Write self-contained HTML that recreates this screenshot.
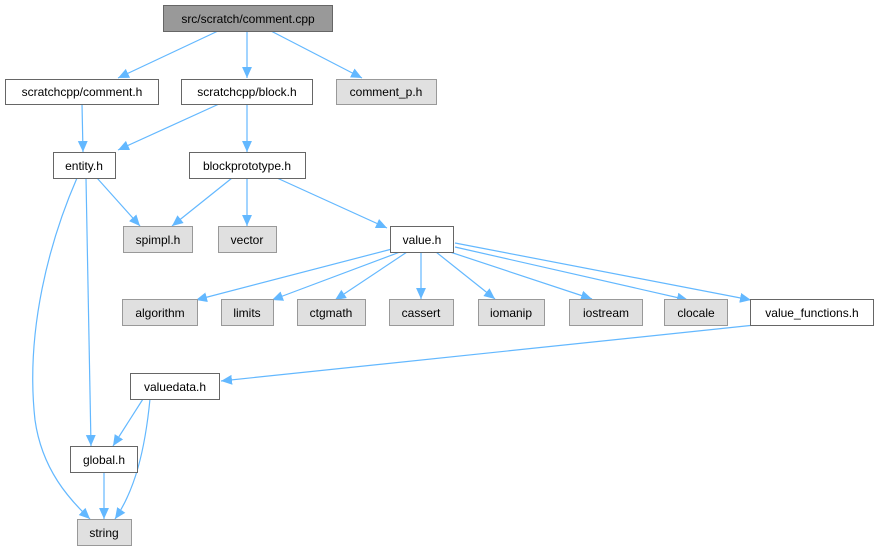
<!DOCTYPE html>
<html><head><meta charset="utf-8"><style>
body{margin:0;background:#fff}
text{font-family:"Liberation Sans",sans-serif;font-size:12px;text-anchor:middle;fill:#000}
</style></head><body>
<svg width="878" height="552" viewBox="0 0 878 552" xmlns="http://www.w3.org/2000/svg">
<defs><marker id="a" viewBox="0 0 10 10" refX="10" refY="5" markerWidth="11" markerHeight="11" markerUnits="userSpaceOnUse" orient="auto"><path d="M0,0.5 L10,5 L0,9.5 z" fill="#63b8ff"/></marker></defs>
<g stroke="#63b8ff" stroke-width="1.2" fill="none" marker-end="url(#a)">
<path d="M218,31 L118,78"/>
<path d="M247,31 L247,78"/>
<path d="M271,31 L362,78"/>
<path d="M82,104 L83,152"/>
<path d="M219,104 L118,150"/>
<path d="M247,104 L247,152"/>
<path d="M97,178 L140,226"/>
<path d="M77,178 C50,240 25,330 35,420 C42,470 70,500 90,519"/>
<path d="M86,178 L91,446"/>
<path d="M232,178 L172,226"/>
<path d="M247,178 L247,226"/>
<path d="M277,178 L387,228"/>
<path d="M392,249 L196,300"/>
<path d="M400,252 L272,300"/>
<path d="M407,252 L335,300"/>
<path d="M421,252 L421,299"/>
<path d="M436,252 L495,299"/>
<path d="M450,252 L592,299"/>
<path d="M455,247 L688,300"/>
<path d="M455,243 L751,300"/>
<path d="M755,325 L221,381"/>
<path d="M143,399 L113,446"/>
<path d="M150,399 C145,450 135,490 115,519"/>
<path d="M104,473 L104,519"/>
</g>
<g stroke-width="1">
<rect x="163.5" y="5.5" width="169" height="26" fill="#999" stroke="#666"/>
<rect x="5.5" y="79.5" width="153" height="25" fill="#fff" stroke="#666"/>
<rect x="181.5" y="79.5" width="131" height="25" fill="#fff" stroke="#666"/>
<rect x="336.5" y="79.5" width="100" height="25" fill="#e0e0e0" stroke="#999"/>
<rect x="53.5" y="152.5" width="62" height="26" fill="#fff" stroke="#666"/>
<rect x="189.5" y="152.5" width="116" height="26" fill="#fff" stroke="#666"/>
<rect x="123.5" y="226.5" width="69" height="26" fill="#e0e0e0" stroke="#999"/>
<rect x="218.5" y="226.5" width="58" height="26" fill="#e0e0e0" stroke="#999"/>
<rect x="390.5" y="226.5" width="63" height="26" fill="#fff" stroke="#666"/>
<rect x="122.5" y="299.5" width="75" height="26" fill="#e0e0e0" stroke="#999"/>
<rect x="221.5" y="299.5" width="52" height="26" fill="#e0e0e0" stroke="#999"/>
<rect x="297.5" y="299.5" width="68" height="26" fill="#e0e0e0" stroke="#999"/>
<rect x="389.5" y="299.5" width="64" height="26" fill="#e0e0e0" stroke="#999"/>
<rect x="478.5" y="299.5" width="66" height="26" fill="#e0e0e0" stroke="#999"/>
<rect x="569.5" y="299.5" width="73" height="26" fill="#e0e0e0" stroke="#999"/>
<rect x="664.5" y="299.5" width="63" height="26" fill="#e0e0e0" stroke="#999"/>
<rect x="750.5" y="299.5" width="123" height="26" fill="#fff" stroke="#666"/>
<rect x="130.5" y="373.5" width="89" height="26" fill="#fff" stroke="#666"/>
<rect x="70.5" y="446.5" width="67" height="26" fill="#fff" stroke="#666"/>
<rect x="77.5" y="519.5" width="54" height="26" fill="#e0e0e0" stroke="#999"/>
</g>
<text x="248" y="23">src/scratch/comment.cpp</text>
<text x="82" y="96">scratchcpp/comment.h</text>
<text x="247" y="96">scratchcpp/block.h</text>
<text x="386" y="96">comment_p.h</text>
<text x="84" y="170">entity.h</text>
<text x="247" y="170">blockprototype.h</text>
<text x="158" y="244">spimpl.h</text>
<text x="247" y="244">vector</text>
<text x="422" y="244">value.h</text>
<text x="160" y="317">algorithm</text>
<text x="247" y="317">limits</text>
<text x="331" y="317">ctgmath</text>
<text x="421" y="317">cassert</text>
<text x="511" y="317">iomanip</text>
<text x="606" y="317">iostream</text>
<text x="696" y="317">clocale</text>
<text x="812" y="317">value_functions.h</text>
<text x="175" y="391">valuedata.h</text>
<text x="104" y="464">global.h</text>
<text x="104" y="537">string</text>
</svg>
</body></html>
